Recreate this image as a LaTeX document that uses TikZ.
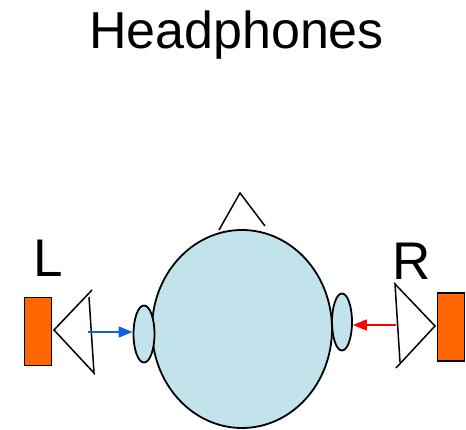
\documentclass[tikz,border=0pt]{standalone}
\usepackage{fontspec}
\setmainfont{Liberation Sans}
\usetikzlibrary{shapes.geometric,arrows.meta,positioning}

\definecolor{skin}{RGB}{194,227,236}
\definecolor{boxorange}{RGB}{255,102,0}
\definecolor{leftblue}{RGB}{16,96,222}

\begin{document}
\begin{tikzpicture}[x=1pt,y=-1pt,
    blob/.style={ellipse,draw,line width=1.8pt,fill=skin,inner sep=0pt},
    speaker/.style={rectangle,draw,line width=1.6pt,fill=boxorange,inner sep=0pt,
                    minimum width=27pt,minimum height=68pt},
    horn/.style={line width=1.5pt},
    sound/.style={line width=1.6pt,-{Triangle[length=14pt,width=11pt]}},
    letter/.style={anchor=base,font=\fontsize{53}{60}\selectfont}]
  \useasboundingbox (0,0) rectangle (466,430);

  \node[letter,font=\fontsize{52}{60}\selectfont] (title) at (236.5,49) {Headphones};

  % head seen from above, with ears and nose
  \draw[horn] (219,230) -- (240,193) -- (265,226);
  \node[blob,minimum width=180pt,minimum height=198pt] (head) at (242,329) {};
  \node[blob,minimum width=21pt,minimum height=57pt] (earL) at (144,334) {};
  \node[blob,minimum width=20pt,minimum height=57pt] (earR) at (342,322) {};

  % left speaker
  \node[speaker] (boxL) at (38,331.5) {};
  \draw[horn] (92,290) -- (54,330) -- (94,373) -- (89,297);
  \coordinate (hornL) at (88,332);
  \node[letter] (labL) at (48,277) {L};

  % right speaker
  \node[speaker] (boxR) at (451,327) {};
  \draw[horn] (400,362) -- (395,284) -- (435,326) -- (396,368);
  \coordinate (hornR) at (396,325);
  \node[letter] (labR) at (412,280) {R};

  \draw[sound,leftblue] (hornL) -- (hornL -| earL.west);
  \draw[sound,red] (hornR) -- (hornR -| earR.east);
\end{tikzpicture}
\end{document}
